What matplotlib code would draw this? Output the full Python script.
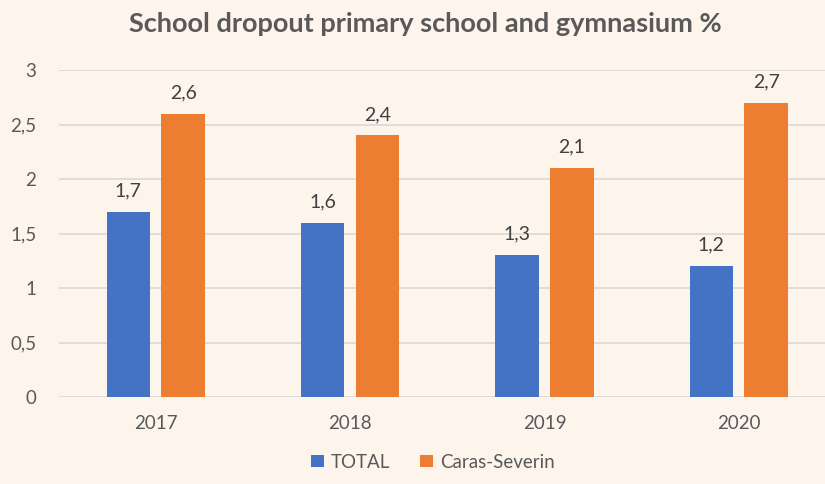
import numpy as np
import matplotlib.pyplot as plt
from matplotlib.ticker import FuncFormatter

years = ["2017", "2018", "2019", "2020"]
total = [1.7, 1.6, 1.3, 1.2]
caras = [2.6, 2.4, 2.1, 2.7]
yticks = [0, 0.5, 1, 1.5, 2, 2.5, 3]

bg = "#FDF5EB"
txt = "#595959"
blue = "#4472C4"
orange = "#ED7D31"

plt.rcParams['font.family'] = ['Lato', 'DejaVu Sans']

def comma(v):
    s = ("%g" % v)
    return s.replace(".", ",")

fig = plt.figure(figsize=(8.25, 4.84), dpi=100, facecolor=bg)
ax = fig.add_axes([58.5 / 825, 87 / 484, (825 - 58.5) / 825, 327 / 484])
ax.set_facecolor(bg)

x = np.arange(len(years))
w = 0.224
off = 0.141
b1 = ax.bar(x - off, total, w, color=blue, label="TOTAL", zorder=3)
b2 = ax.bar(x + off, caras, w, color=orange, label="Caras-Severin", zorder=3)

for bars, vals in ((b1, total), (b2, caras)):
    for r, v in zip(bars, vals):
        ax.annotate(comma(v), (r.get_x() + r.get_width() / 2, v),
                    xytext=(0, 9), textcoords="offset points",
                    ha="center", va="bottom", fontsize=14, color="#404040")

ax.set_ylim(0, 3)
ax.set_xlim(-0.5, 3.5 - 11 / 194.5)
ax.set_yticks(yticks)
ax.yaxis.set_major_formatter(FuncFormatter(lambda v, p: comma(v)))
ax.set_xticks(x)
ax.set_xticklabels(years)
ax.grid(axis="y", color="#D9D9D9", linewidth=1.2, zorder=0)
for s in ax.spines.values():
    s.set_visible(False)
ax.tick_params(length=0, labelsize=13.5, colors=txt)
ax.tick_params(axis="y", pad=16)
ax.tick_params(axis="x", pad=13)

fig.suptitle("School dropout primary school and gymnasium %", x=0.515, y=0.975,
             fontsize=19.5, fontweight="bold", color=txt)

fig.legend(loc="center", bbox_to_anchor=(0.525, 0.045), ncol=2, frameon=False,
           fontsize=13.5, labelcolor=txt, handlelength=0.65, handleheight=0.65,
           columnspacing=1.6, handletextpad=0.4)

fig.savefig("out.png", dpi=100, facecolor=bg)
